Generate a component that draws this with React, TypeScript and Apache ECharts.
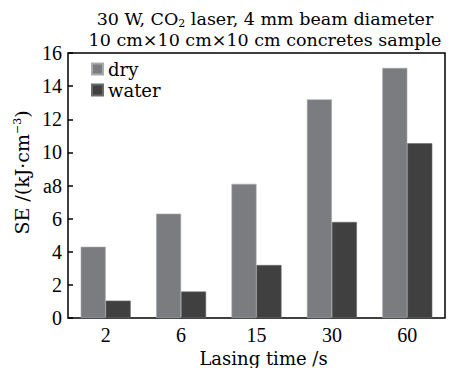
import React, { useEffect, useRef } from "react";
import * as echarts from "echarts";

const categories = ["2", "6", "15", "30", "60"];
const dryValues = [4.3, 6.3, 8.1, 13.2, 15.1];
const waterValues = [1.05, 1.6, 3.2, 5.8, 10.55];
const yTickLabels: Record<number, string> = { 0: "0", 2: "2", 4: "4", 6: "6", 8: "a8", 10: "10", 12: "12", 14: "14", 16: "16" };

const FONT = "Liberation Serif";
const TFONT = "DejaVu Serif";

export default function App() {
  const ref = useRef<HTMLDivElement>(null);
  useEffect(() => {
    if (!ref.current) return;
    const chart = echarts.init(ref.current, undefined, { renderer: "svg" });
    chart.setOption({
      animation: false,
      textStyle: { fontFamily: FONT, color: "#000" },
      title: {
        text: "30 W, CO{sub|2} laser, 4 mm beam diameter\n10 cm×10 cm×10 cm concretes sample",
        left: 260,
        textAlign: "center",
        top: 3,
        textStyle: {
          fontFamily: TFONT,
          fontSize: 17.5,
          fontWeight: "normal",
          color: "#000",
          lineHeight: 21,
          rich: {
            sub: { fontFamily: TFONT, fontSize: 11, verticalAlign: "bottom", padding: [8, 0, 0, 0], color: "#000" },
          },
        },
      },
      legend: {
        orient: "vertical",
        left: 86,
        top: 55,
        itemWidth: 11,
        itemHeight: 11,
        itemGap: 3,
        icon: "rect",
        textStyle: { fontFamily: TFONT, fontSize: 18, color: "#000" },
        data: ["dry", "water"],
      },
      grid: {
        left: 68,
        right: 14,
        top: 53,
        bottom: 50,
        show: true,
        borderColor: "#000",
        borderWidth: 1.5,
        backgroundColor: "transparent",
        outerBoundsMode: "none",
      },
      xAxis: {
        type: "category",
        data: categories,
        name: "Lasing time /s",
        nameLocation: "middle",
        nameGap: 25,
        nameTextStyle: { fontFamily: TFONT, fontSize: 18, color: "#000", padding: [0, 0, 0, 14] },
        axisLine: { show: false },
        axisTick: { show: false },
        axisLabel: { fontFamily: FONT, fontSize: 20, color: "#000", margin: 7 },
      },
      yAxis: {
        type: "value",
        min: 0,
        max: 16,
        interval: 2,
        name: "SE /(kJ·cm{sup|−3})",
        nameLocation: "middle",
        nameGap: 28,
        nameTextStyle: {
          fontFamily: TFONT,
          fontSize: 19,
          color: "#000",
          padding: [0, 0, 0, 26],
          rich: {
            sup: { fontFamily: TFONT, fontSize: 11, verticalAlign: "top", padding: [0, 0, 8, 0], color: "#000" },
          },
        },
        splitLine: { show: false },
        axisLine: { show: false },
        axisTick: { show: true, inside: true, length: 5, lineStyle: { color: "#000", width: 1.5 } },
        axisLabel: {
          fontFamily: FONT,
          fontSize: 20,
          color: "#000",
          margin: 6,
          formatter: (v: number) => yTickLabels[v] ?? String(v),
        },
      },
      series: [
        {
          name: "dry",
          type: "bar",
          data: dryValues,
          barWidth: 25,
          barGap: "0%",
          itemStyle: { color: "#7b7c80", borderColor: "#a8a9ac", borderWidth: 0.6 },
        },
        {
          name: "water",
          type: "bar",
          data: waterValues,
          barWidth: 25,
          barGap: "0%",
          itemStyle: { color: "#404040", borderColor: "#6a6a6a", borderWidth: 0.6 },
        },
      ],
    });
    return () => chart.dispose();
  }, []);
  return <div ref={ref} style={{ width: 459, height: 368, position: "absolute", left: 0, top: 0 }} />;
}
